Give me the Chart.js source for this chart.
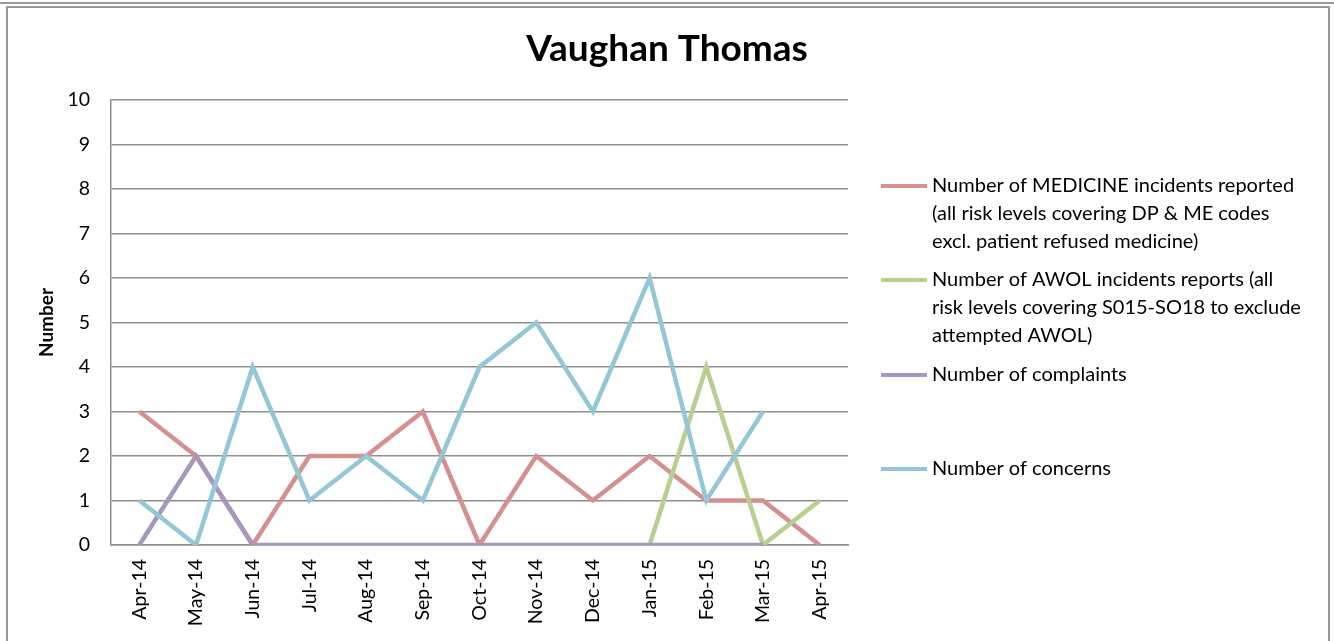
<!DOCTYPE html>
<html>
<head>
<meta charset="utf-8">
<script src="https://cdn.jsdelivr.net/npm/chart.js@4/dist/chart.umd.min.js"></script>
<style>
  body { margin: 0; background: #fff; }
  #topLine { position: absolute; left: 0; top: 2px; width: 1334px; height: 2px; background: #9a9a9a; }
  #frame { position: absolute; left: 6px; top: 6px; width: 1320px; height: 700px; border: 2px solid #9a9a9a; }
  #wrap { position: absolute; left: 0; top: 0; width: 1334px; height: 641px; }
</style>
</head>
<body>
<div id="topLine"></div>
<div id="frame"></div>
<div id="wrap"><canvas id="chart"></canvas></div>
<script>
const months = ['Apr-14', 'May-14', 'Jun-14', 'Jul-14', 'Aug-14', 'Sep-14', 'Oct-14', 'Nov-14', 'Dec-14', 'Jan-15', 'Feb-15', 'Mar-15', 'Apr-15'];
const medicine = [3, 2, 0, 2, 2, 3, 0, 2, 1, 2, 1, 1, 0];
const awol = [null, null, null, null, null, null, null, null, null, 0, 4, 0, 1];
const complaints = [0, 2, 0, 0, 0, 0, 0, 0, 0, 0, 0, 0, null];
const concerns = [1, 0, 4, 1, 2, 1, 4, 5, 3, 6, 1, 3, null];

const legendLabels = [
    ['Number of MEDICINE incidents reported', '(all risk levels covering DP & ME codes', 'excl. patient refused medicine)'],
    ['Number of AWOL incidents reports (all', 'risk levels covering S015-SO18 to exclude', 'attempted AWOL)'],
    ['Number of complaints'],
    ['Number of concerns']
];
const colors = ['#d4908e', '#b8cf8f', '#a697be', '#93c6d6'];

const FONT = 'Lato';
const gridColor = '#8e8e8e';

// legend drawn by hand so the wrapped labels sit like the original
const sideLegend = {
    id: 'sideLegend',
    afterDraw(chart) {
        const ctx = chart.ctx;
        const slotTops = [186, 280, 375, 469];
        ctx.save();
        ctx.font = '20px ' + FONT;
        ctx.textBaseline = 'middle';
        legendLabels.forEach((lines, i) => {
            const y = slotTops[i];
            ctx.fillStyle = colors[i];
            ctx.fillRect(881, y - 2, 46, 4);
            ctx.fillStyle = '#000';
            lines.forEach((t, j) => ctx.fillText(t, 932, y + j * 27.6));
        });
        ctx.restore();
    }
};

function line(label, data, color, order) {
    return {
        label: label,
        data: data,
        borderColor: color,
        backgroundColor: color,
        borderWidth: 4.5,
        pointRadius: 0,
        pointHoverRadius: 0,
        tension: 0,
        order: order
    };
}

new Chart(document.getElementById('chart'), {
    type: 'line',
    data: {
        labels: months,
        datasets: [
            line(legendLabels[0].join(' '), medicine, colors[0], 4),
            line(legendLabels[1].join(' '), awol, colors[1], 3),
            line(legendLabels[2].join(' '), complaints, colors[2], 2),
            line(legendLabels[3].join(' '), concerns, colors[3], 1)
        ]
    },
    options: {
        responsive: true,
        maintainAspectRatio: false,
        animation: false,
        layout: { padding: 0 },
        plugins: {
            legend: { display: false },
            tooltip: { enabled: false },
            title: {
                display: true,
                text: 'Vaughan Thomas',
                color: '#000',
                font: { family: FONT, size: 37, weight: 'bold', lineHeight: 1.2 },
                padding: { top: 27, bottom: 28.6 }
            }
        },
        scales: {
            x: {
                offset: true,
                grid: { display: false, drawTicks: false, offset: true },
                border: { display: true, color: gridColor, width: 1.5 },
                ticks: {
                    color: '#000',
                    font: { family: FONT, size: 19.5 },
                    minRotation: 90,
                    maxRotation: 90,
                    padding: 14,
                    autoSkip: false
                },
                afterFit: s => { s.height = 96; }
            },
            y: {
                min: 0,
                max: 10,
                ticks: {
                    stepSize: 1,
                    color: '#000',
                    font: { family: FONT, size: 19.5 },
                    padding: 21
                },
                grid: { color: gridColor, lineWidth: 1.5, drawTicks: false },
                border: { display: true, color: gridColor, width: 1.5 },
                title: {
                    display: true,
                    text: 'Number',
                    color: '#000',
                    font: { family: FONT, size: 19, weight: 'bold', lineHeight: 1.2 },
                    padding: { top: 35.6, bottom: 0 }
                },
                afterFit: s => { s.width = 111; }
            },
            yr: {
                position: 'right',
                display: true,
                grid: { display: false, drawTicks: false },
                border: { display: false },
                ticks: { display: false },
                afterFit: s => { s.width = 486; }
            }
        }
    },
    plugins: [sideLegend]
});
</script>
</body>
</html>
